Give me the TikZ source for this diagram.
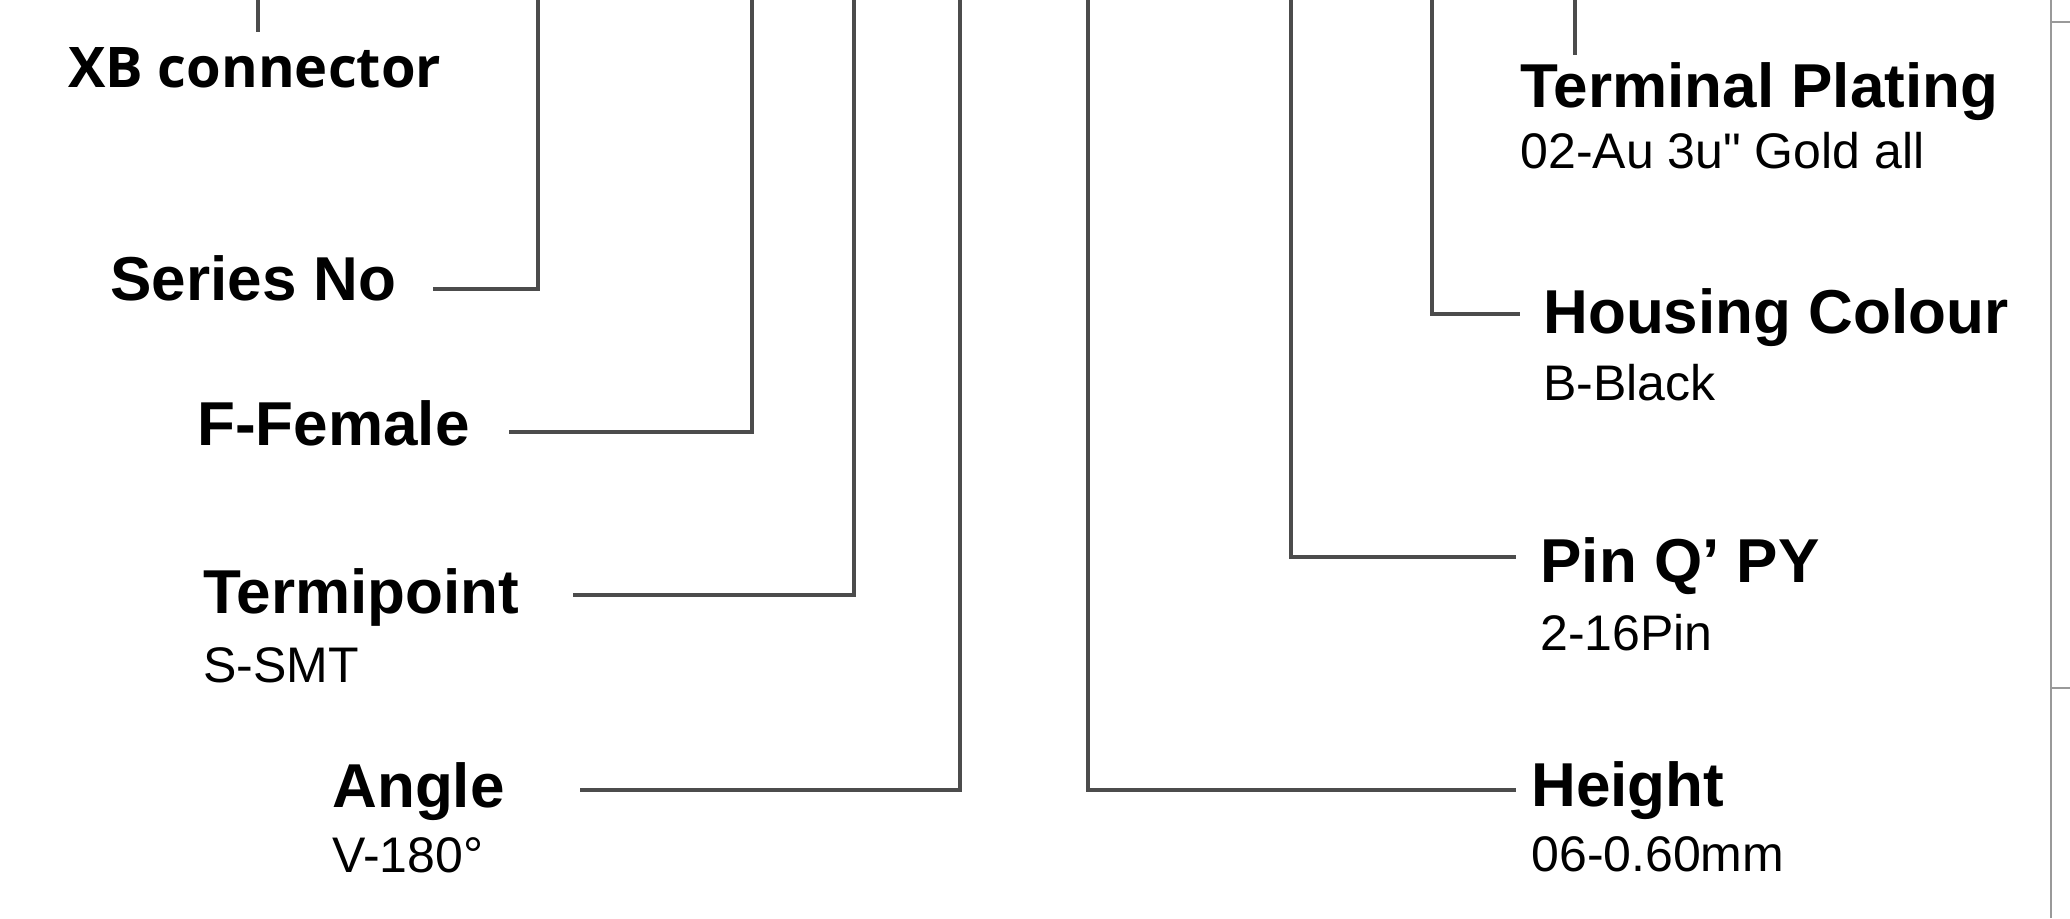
\documentclass[tikz,border=0pt]{standalone}
\usepackage{fontspec}
\newfontfamily\lblfont{Liberation Sans}
\newfontfamily\xbfont{Open Sans}
\begin{document}
\begin{tikzpicture}[x=0.5pt,y=-0.5pt,
  head/.style={font=\lblfont\bfseries\fontsize{31}{36}\selectfont, inner sep=0pt, anchor=base west},
  sub/.style={font=\lblfont\fontsize{25}{30}\selectfont, inner sep=0pt, anchor=base west},
  titlebox/.style={font=\xbfont\bfseries\fontsize{28}{34}\selectfont, inner sep=0pt, anchor=base west},
  lead/.style={draw=black!70, line width=1.8pt},
  edgeline/.style={draw=black!40, line width=0.6pt}]
\useasboundingbox[fill=white] (0,0) rectangle (2070,918);

% labels
\node[titlebox] (xb) at (68,87) {XB connector};
\node[head] (series) at (110,300) {Series No};
\node[head] (female) at (197,445) {F-Female};
\node[head] (termi) at (203,613) {Termipoint};
\node[sub]  (termis) at (203,682) {S-SMT};
\node[head] (angle) at (332,807) {Angle};
\node[sub]  (angles) at (332,872) {V-180°};
\node[head] (plating) at (1520,107) {Terminal Plating};
\node[sub]  (platings) at (1520,168) {02-Au 3u" Gold all};
\node[head] (housing) at (1543,333) {Housing Colour};
\node[sub]  (housings) at (1543,400) {B-Black};
\node[head] (pin) at (1540,582) {Pin Q’ PY};
\node[sub]  (pins) at (1540,650) {2-16Pin};
\node[head] (height) at (1531,806) {Height};
\node[sub]  (heights) at (1531,871) {06-0.60mm};

% connector end points
\coordinate (xbT) at (258,0);   \coordinate (xbE) at (258,32);
\coordinate (seT) at (538,0);   \coordinate (seE) at (433,289);
\coordinate (feT) at (752,0);   \coordinate (feE) at (509,432);
\coordinate (teT) at (854,0);   \coordinate (teE) at (573,595);
\coordinate (anT) at (960,0);   \coordinate (anE) at (580,790);
\coordinate (heT) at (1088,0);  \coordinate (heE) at (1516,790);
\coordinate (piT) at (1291,0);  \coordinate (piE) at (1516,557);
\coordinate (hoT) at (1432,0);  \coordinate (hoE) at (1520,314);
\coordinate (plT) at (1575,0);  \coordinate (plE) at (1575,55);

\draw[lead] (xbT) -- (xbE);
\draw[lead] (seT) |- (seE);
\draw[lead] (feT) |- (feE);
\draw[lead] (teT) |- (teE);
\draw[lead] (anT) |- (anE);
\draw[lead] (heT) |- (heE);
\draw[lead] (piT) |- (piE);
\draw[lead] (hoT) |- (hoE);
\draw[lead] (plT) -- (plE);

% right border
\coordinate (rT) at (2051,0); \coordinate (rB) at (2051,918);
\coordinate (t1a) at (2051,22); \coordinate (t1b) at (2070,22);
\coordinate (t2a) at (2051,688); \coordinate (t2b) at (2070,688);
\draw[edgeline] (rT) -- (rB);
\draw[edgeline] (t1a) -- (t1b);
\draw[edgeline] (t2a) -- (t2b);
\end{tikzpicture}
\end{document}
